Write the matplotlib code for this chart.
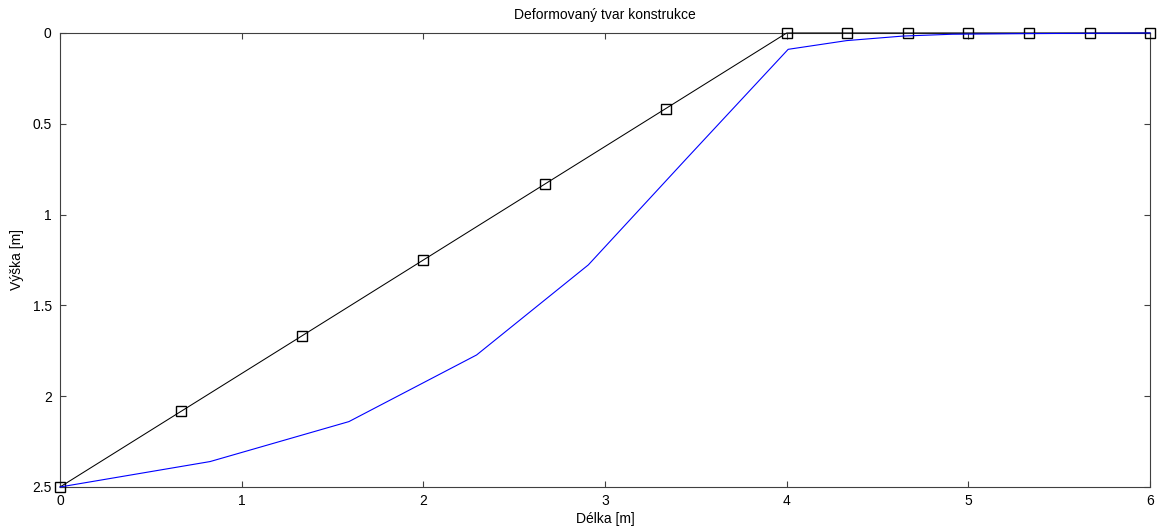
import matplotlib

matplotlib.use("Agg")

import matplotlib.pyplot as plt
from matplotlib.ticker import FormatStrFormatter

# puvodni tvar (cerna) a deformovany tvar (modra)
x_orig = [0, 0.667, 1.333, 2.0, 2.667, 3.333, 4.0, 4.333, 4.667, 5.0, 5.333, 5.667, 6.0]
y_orig = [2.5, 2.083, 1.667, 1.25, 0.833, 0.417, 0, 0, 0, 0, 0, 0, 0]

x_def = [0, 0.826, 1.59, 2.293, 2.908, 3.45, 4.008, 4.33, 4.64, 4.91, 5.25, 5.58, 5.85, 6.0]
y_def = [2.5, 2.36, 2.14, 1.773, 1.277, 0.69, 0.09, 0.042, 0.017, 0.007, 0.004, 0.002, 0.001, 0]

x_ticks = [0, 1, 2, 3, 4, 5, 6]
y_ticks = [0, 0.5, 1, 1.5, 2, 2.5]

plt.rcParams["font.family"] = ["Liberation Sans", "DejaVu Sans"]
plt.rcParams["font.size"] = 10

fig = plt.figure(figsize=(11.57, 5.31), dpi=100)
ax = fig.add_axes([0.0519, 0.0829, 0.9421, 0.855])

# cary
ax.plot(x_orig, y_orig, "-s", color="black", lw=0.75, ms=6.5,
        mfc="none", mec="black", mew=1, clip_on=False, zorder=3)
ax.plot(x_def, y_def, "-", color="#0000ff", lw=0.8, clip_on=False, zorder=4)

ax.set_xlim(0, 6)
ax.set_ylim(2.5, 0)
ax.set_xticks(x_ticks)
ax.set_yticks(y_ticks)
ax.xaxis.set_major_formatter(FormatStrFormatter("%g"))
ax.yaxis.set_major_formatter(FormatStrFormatter("%g"))
ax.tick_params(direction="in", length=4, width=0.8, color="#404040",
               top=True, right=True, labelsize=10)
ax.tick_params(axis="x", pad=5)
ax.tick_params(axis="y", pad=6)
for s in ax.spines.values():
    s.set_color("#404040")
    s.set_linewidth(0.8)

ax.set_title("Deformovaný tvar konstrukce", fontsize=10, pad=10)
ax.set_xlabel("Délka [m]", fontsize=10, labelpad=3)
ax.set_ylabel("Výška [m]", fontsize=10, labelpad=6)

plt.savefig("out.png", dpi=100)
print("save plot image to: out.png")
